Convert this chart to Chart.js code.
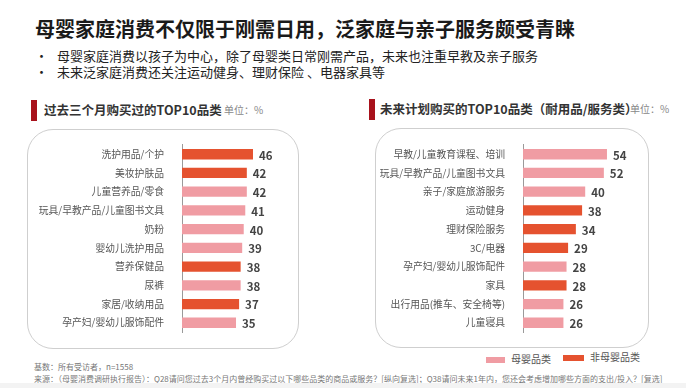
<!DOCTYPE html>
<html>
<head>
<meta charset="utf-8">
<script src="https://cdn.jsdelivr.net/npm/chart.js@4.4.1/dist/chart.umd.min.js"></script>
<style>
    html, body { margin: 0; padding: 0; background: #fff; }
    body { width: 686px; height: 388px; position: relative; overflow: hidden;
           font-family: "Noto Sans CJK SC", "Noto Sans", sans-serif; color: #333; }
    .abs { position: absolute; white-space: nowrap; }
    .title { left: 35px; top: 16px; font-size: 20px; font-weight: 700; color: #1a1a1a; line-height: 26px; }
    .bullet { left: 35px; font-size: 13px; line-height: 16px; color: #222; }
    .bullet span { position: absolute; left: 22px; }
    .mark { width: 6px; height: 21px; background: #a8121c; }
    .head { font-size: 12.5px; font-weight: 700; color: #333; line-height: 16px; }
    .unit { font-size: 10px; color: #888; line-height: 16px; }
    .box { border: 1px solid #cfcfcf; border-radius: 26px; }
    .swatch { height: 6px; }
    .legend { font-size: 10px; color: #555; line-height: 14px; }
    .note { left: 34px; font-size: 8px; color: #777; line-height: 11px; }
    .band { left: 0; top: 383px; width: 686px; height: 5px; background: #f3f3f3; }
    canvas { position: absolute; }
</style>
</head>
<body>
<div class="abs title">母婴家庭消费不仅限于刚需日用，泛家庭与亲子服务颇受青睐</div>
<div class="abs bullet" style="top:48px">•<span>母婴家庭消费以孩子为中心，除了母婴类日常刚需产品，未来也注重早教及亲子服务</span></div>
<div class="abs bullet" style="top:64px">•<span>未来泛家庭消费还关注运动健身、理财保险 、电器家具等</span></div>

<div class="abs mark" style="left:31px; top:100px"></div>
<div class="abs head" style="left:44px; top:102px">过去三个月购买过的TOP10品类</div>
<div class="abs unit" style="left:224px; top:102px">单位：%</div>

<div class="abs mark" style="left:369px; top:99px"></div>
<div class="abs head" style="left:380px; top:101px">未来计划购买的TOP10品类（耐用品/服务类）</div>
<div class="abs unit" style="left:630px; top:101px">单位：%</div>

<div class="abs box" style="left:27px; top:129px; width:270px; height:218px"></div>
<div class="abs box" style="left:375px; top:128px; width:272px; height:218px"></div>

<canvas id="pastChart" width="271" height="219" style="left:27px; top:129px"></canvas>
<canvas id="futureChart" width="273" height="219" style="left:375px; top:129px"></canvas>

<div class="abs swatch" id="swBaby" style="left:486px; top:357px; width:19px"></div>
<div class="abs legend" style="left:511px; top:352px">母婴品类</div>
<div class="abs swatch" id="swOther" style="left:563px; top:355px; width:21px"></div>
<div class="abs legend" style="left:590px; top:350px">非母婴品类</div>

<div class="abs note" style="top:361px">基数：所有受访者，n=1558</div>
<div class="abs note" style="top:373px">来源：（母婴消费调研执行报告）：Q28请问您过去3个月内曾经购买过以下哪些品类的商品或服务？[纵向复选]；Q38请问未来1年内，您还会考虑增加哪些方面的支出/投入？[复选]</div>
<div class="abs band"></div>

<script>
// Data
const pastLabels = ['洗护用品/个护', '美妆护肤品', '儿童营养品/零食', '玩具/早教产品/儿童图书文具', '奶粉',
    '婴幼儿洗护用品', '营养保健品', '尿裤', '家居/收纳用品', '孕产妇/婴幼儿服饰配件'];
const pastValues = [46, 42, 42, 41, 40, 39, 38, 38, 37, 35];
const pastGroups = ['非母婴品类', '非母婴品类', '母婴品类', '母婴品类', '母婴品类',
    '母婴品类', '非母婴品类', '母婴品类', '非母婴品类', '母婴品类'];

const futureLabels = ['早教/儿童教育课程、培训', '玩具/早教产品/儿童图书文具', '亲子/家庭旅游服务', '运动健身', '理财保险服务',
    '3C/电器', '孕产妇/婴幼儿服饰配件', '家具', '出行用品(推车、安全椅等)', '儿童寝具'];
const futureValues = [54, 52, 40, 38, 34, 29, 28, 28, 26, 26];
const futureGroups = ['母婴品类', '母婴品类', '母婴品类', '非母婴品类', '非母婴品类',
    '非母婴品类', '母婴品类', '非母婴品类', '母婴品类', '母婴品类'];

const groupColors = { '母婴品类': '#f09ca3', '非母婴品类': '#e5522f' };

const PageApp = {
    charts: [],

    init() {
        document.getElementById('swBaby').style.background = groupColors['母婴品类'];
        document.getElementById('swOther').style.background = groupColors['非母婴品类'];

        this.charts.push(this.buildChart('pastChart', pastLabels, pastValues, pastGroups, 155, 23.4));
        this.charts.push(this.buildChart('futureChart', futureLabels, futureValues, futureGroups, 148, 31.7));
    },

    // Draws the number just past the end of each bar
    valueLabels: {
        id: 'valueLabels',
        afterDatasetsDraw(chart) {
            const ctx = chart.ctx;
            const meta = chart.getDatasetMeta(0);
            const values = chart.data.datasets[0].data;
            ctx.save();
            ctx.font = 'bold 11.5px "Noto Sans CJK SC", sans-serif';
            ctx.fillStyle = '#444';
            ctx.textAlign = 'left';
            ctx.textBaseline = 'middle';
            meta.data.forEach((bar, i) => {
                ctx.fillText(String(values[i]), bar.x + 6, bar.y + 1);
            });
            ctx.restore();
        }
    },

    buildChart(id, labels, values, groups, axisWidth, padRight) {
        const ctx = document.getElementById(id).getContext('2d');
        return new Chart(ctx, {
            type: 'bar',
            data: {
                labels: labels,
                datasets: [{
                    data: values,
                    backgroundColor: groups.map(g => groupColors[g]),
                    categoryPercentage: 1,
                    barPercentage: 0.55
                }]
            },
            options: {
                indexAxis: 'y',
                responsive: false,
                animation: false,
                devicePixelRatio: 1,
                layout: { padding: { top: 5.3, bottom: 0.4, left: 0, right: padRight } },
                scales: {
                    x: { display: false, min: 0, max: 60 },
                    y: {
                        grid: { display: false },
                        border: { display: true, color: '#9a9a9a', width: 1 },
                        ticks: {
                            padding: 10,
                            color: '#555',
                            font: { family: '"Noto Sans CJK SC", sans-serif', size: 9.8 }
                        },
                        afterFit(scale) { scale.width = axisWidth; }
                    }
                },
                plugins: {
                    legend: { display: false },
                    tooltip: { enabled: false }
                }
            },
            plugins: [this.valueLabels]
        });
    }
};

PageApp.init();
</script>
</body>
</html>
